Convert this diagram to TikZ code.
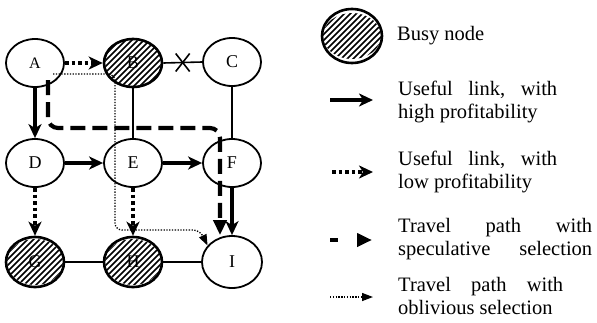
\documentclass[tikz,border=0pt]{standalone}
\usepackage{fontspec}
\setmainfont{Liberation Serif}
\usetikzlibrary{shapes.geometric,arrows.meta,calc}

% diagonal hatching laid over a busy node
\newcommand\hatchover[2]{%
  \path[path picture={%
      \foreach \k in {-12,...,12}{%
        \draw[line width=1.6pt]
          ([shift={(\k*6pt-40pt,-40pt)}]path picture bounding box.center) -- ++(80pt,80pt);}}]
    (#1.center) ellipse [x radius=#2pt, y radius=23pt];}

\begin{document}
\begin{tikzpicture}[x=1pt,y=-1pt,
  vtx/.style={draw, line width=1.8pt, ellipse, minimum width=58pt,
    minimum height=48pt, inner sep=0pt, font=\fontsize{18}{18}\selectfont},
  busy/.style={vtx, line width=2.6pt},
  plain/.style={line width=1.6pt},
  hi/.style={line width=3.4pt, -{Stealth[length=14pt,width=13pt,inset=4pt]}},
  lo/.style={line width=3.6pt, dash pattern=on 3.6pt off 3pt,
    -{Stealth[length=14pt,width=13pt,inset=4pt]}},
  spec/.style={line width=4.2pt, dash pattern=on 15pt off 7pt,
    -{Triangle[length=15pt,width=13pt]}},
  obl/.style={line width=1.3pt, dash pattern=on 1.3pt off 1.5pt,
    -{Triangle[length=11pt,width=8pt]}},
  legtext/.style={anchor=west, align=left, inner sep=0pt,
    font=\fontsize{20.5}{23}\selectfont}
]
\useasboundingbox (0,0) rectangle (597,322);

% grid of nodes
\node[vtx, font=\fontsize{16}{16}\selectfont] (A) at (35,63) {A};
\node[busy] (B) at (133,63) {B};
\node[vtx] (C) at (232,62) {C};
\node[vtx] (D) at (35,163) {D};
\node[vtx] (E) at (133,163) {E};
\node[vtx] (F) at (232,163) {F};
\node[busy, minimum height=50pt] (G) at (35,262) {G};
\node[busy, minimum height=50pt] (H) at (133,262) {H};
\node[vtx, minimum width=60pt, minimum height=52pt] (I) at (232,262) {I};
\hatchover{B}{28}
\hatchover{G}{28}
\hatchover{H}{28}

% plain links
\draw[plain] (B.east) -- (C.west) coordinate[midway] (bc);
\draw[plain] ($(bc)+(-7,-9)$) -- ($(bc)+(7,9)$);
\draw[plain] ($(bc)+(-7,9)$) -- ($(bc)+(7,-9)$);
\draw[plain] (B) -- (E);
\draw[plain] (C) -- (F);
\draw[plain] (G) -- (H);
\draw[plain] (H) -- (I);

% useful links
\draw[hi] (A) -- (D);
\draw[hi] (D) -- (E);
\draw[hi] (E) -- (F);
\draw[hi] (F) -- (I);
\draw[lo] (A) -- (B);
\draw[lo] (D) -- (G);
\draw[lo] (E) -- (H);

% travel paths
\coordinate (s0) at (48,80);
\draw[spec, rounded corners=10pt] (s0) -- (48,128) -- (220,128) -- (220,0 |- I.north);
\coordinate (o0) at (53,74);
\draw[obl, rounded corners=7pt] (o0) -- (115,74) -- (115,230) -- (200,230) -- (I.146);

% legend
\node[busy, minimum width=60pt, minimum height=54pt] (bz) at (352,36) {};
\hatchover{bz}{29}
\node[legtext] (tbusy) at (397,36) {Busy node};

\coordinate (h0) at (330,100); \coordinate (h1) at (373,100);
\draw[hi] (h0) -- (h1);
\node[legtext] (thi) at (398,101.5) {\hbox to 159pt{Useful\hfill link,\hfill with}\\high profitability};

\coordinate (l0) at (332,172); \coordinate (l1) at (373,172);
\draw[lo] (l0) -- (l1);
\node[legtext] (tlo) at (398,171.5) {\hbox to 159pt{Useful\hfill link,\hfill with}\\low profitability};

\coordinate (p0) at (330,240); \coordinate (p1) at (372,240);
\draw[spec, dash pattern=on 8pt off 30pt] (p0) -- (p1);
\node[legtext] (tspec) at (398,239) {\hbox to 194pt{Travel\hfill path\hfill with}\\\hbox to 194pt{speculative\hfill selection}};

\coordinate (q0) at (330,297); \coordinate (q1) at (373,297);
\draw[obl] (q0) -- (q1);
\node[legtext] (tobl) at (398,296) {\hbox to 165pt{Travel\hfill path\hfill with}\\oblivious selection};
\end{tikzpicture}
\end{document}
